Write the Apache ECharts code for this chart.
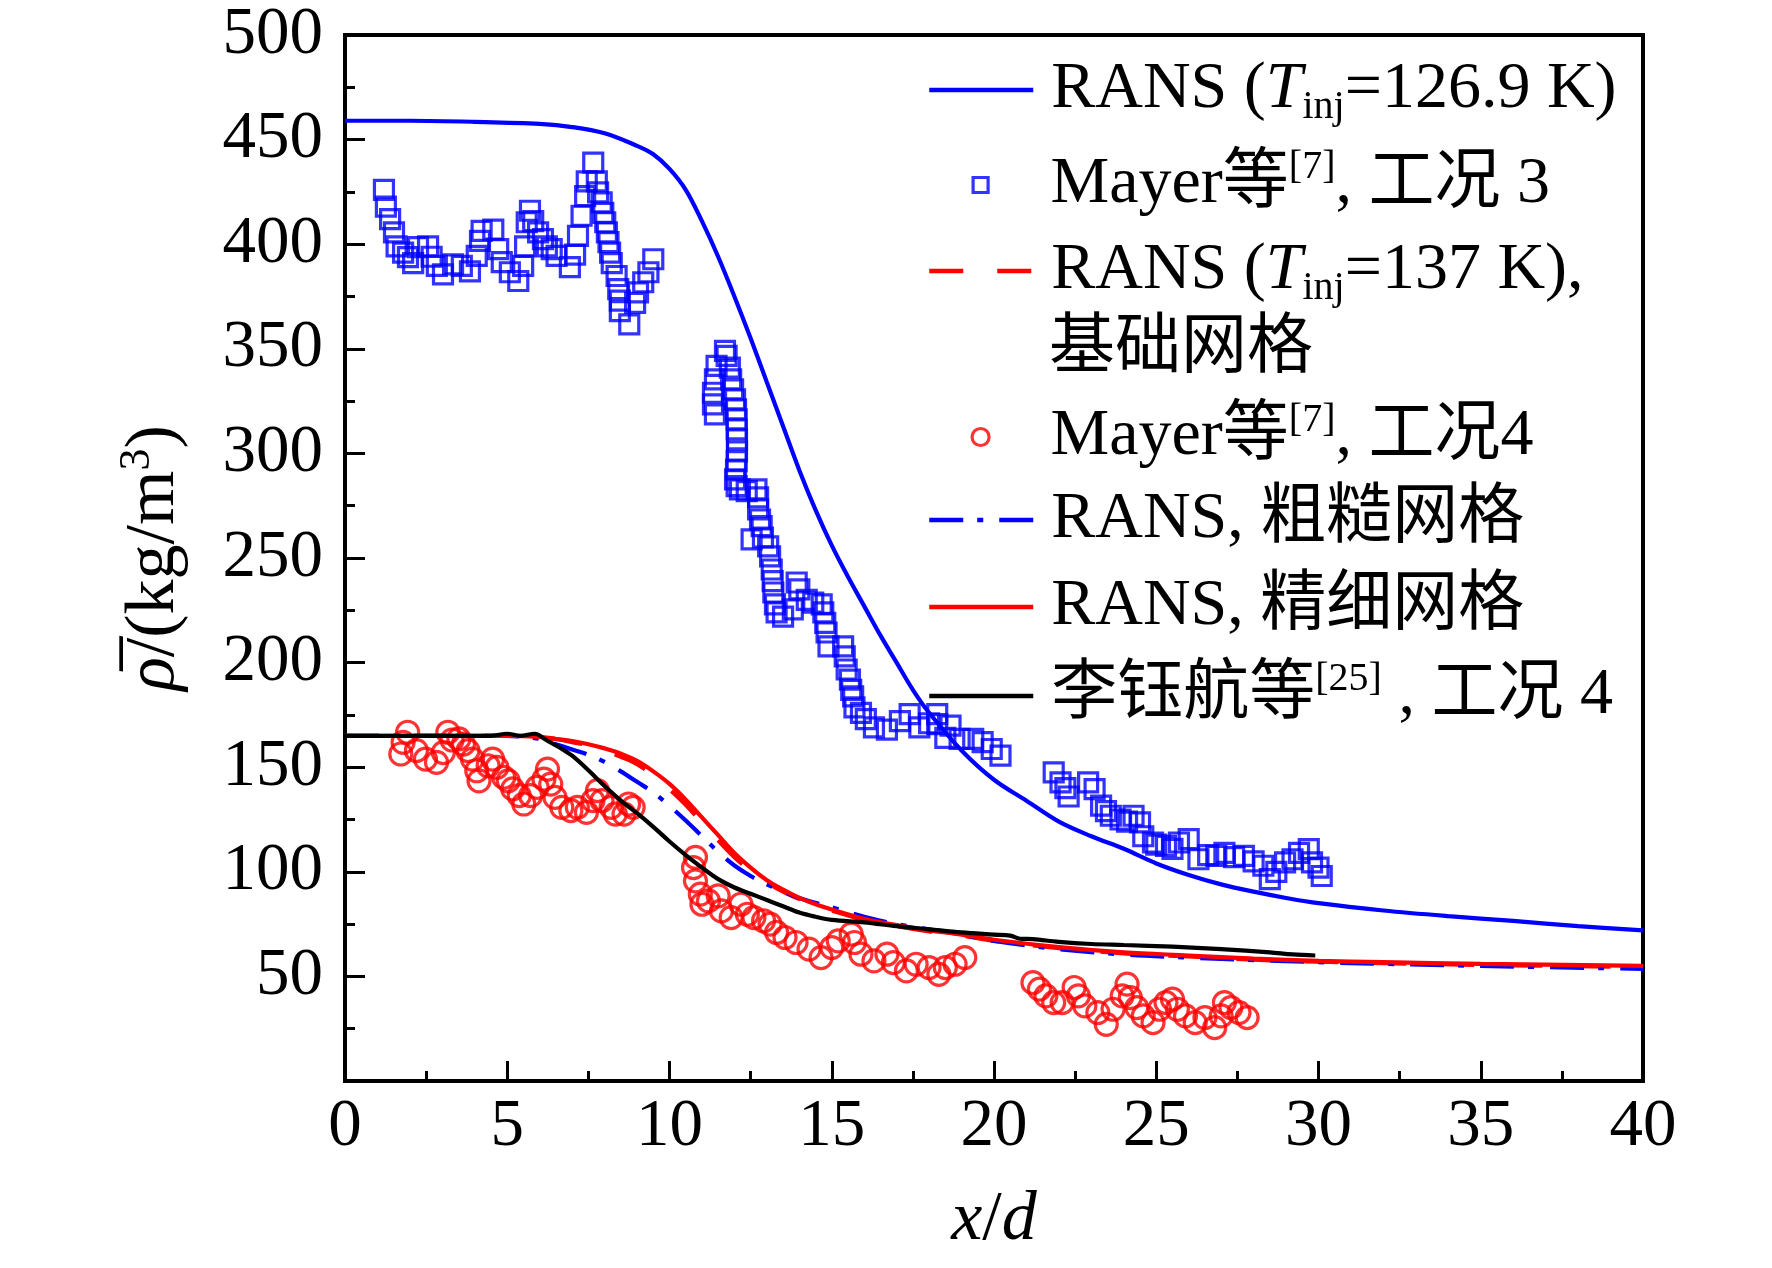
<!DOCTYPE html>
<html>
<head>
<meta charset="utf-8">
<script src="https://cdn.jsdelivr.net/npm/echarts@6/dist/echarts.min.js"></script>
<style>
  html, body { margin: 0; padding: 0; background: #fff; }
  #chart { width: 1772px; height: 1268px; }
</style>
</head>
<body>
<div id="chart"></div>
<script>
// x/d vs mean density
const xTicks = [0, 5, 10, 15, 20, 25, 30, 35, 40];
const yTicks = [50, 100, 150, 200, 250, 300, 350, 400, 450, 500];

// RANS, T_inj = 126.9 K
const ransHotCurve = [[0,459],[2,459],[4,458.5],[6,457.5],[7,456],[8,453],[9,447],[9.5,443],[10,436],[10.5,426],
  [11,411],[11.5,394],[12,375],[12.5,355],[13,334],[13.5,313],[14,292],[14.5,273],[15,256],[15.5,241],[16,227],
  [16.5,213],[17,200],[17.5,187],[18,176],[19,158],[20,144],[21,134],[22,124],[23,117],[24,111],[25,104],
  [26,98.5],[27,94],[28,90.5],[29,87.5],[30,85],[32,81.5],[34,78.8],[36,76.5],[38,74],[40,72]];

// Mayer case 3
const mayer3Points = [[1.2,426],[1.26,418],[1.39,412],[1.51,405.7],[1.59,399],[1.79,396],[1.94,393.8],[2.1,391],
  [2.25,398.6],[2.56,399],[2.67,394],[2.83,389.6],[3.02,385.6],[3.33,390.4],[3.6,389.6],[3.85,387],[4.06,394.4],
  [4.16,401.6],[4.21,406.4],[4.57,407],[4.72,397.6],[4.83,391.4],[5.08,386.6],[5.34,382.4],[5.49,389.6],[5.55,399],
  [5.6,410.5],[5.7,416],[5.8,411],[5.95,405.7],[6.1,402.4],[6.22,399],[6.37,397.6],[6.52,394.4],[6.93,389],[7.09,395],
  [7.18,404],[7.29,413.6],[7.4,423],[7.45,430],[7.65,439],[7.76,430],[7.8,424.8],[7.91,420],[7.96,415],[8.02,410.5],
  [8.07,405.7],[8.12,401],[8.17,396],[8.22,391],[8.37,384.8],[8.42,378.5],[8.47,373],[8.47,368],[8.76,361.7],[8.94,372],
  [9.03,377],[9.19,381.8],[9.35,386.6],[9.5,392.8],
  [11.45,341.8],[11.4,335.4],[11.34,329],[11.34,323.4],[11.4,318.7],[11.71,349],[11.76,346.6],[11.86,341],[11.9,335.4],
  [11.96,330.6],[12.02,325.8],[12.05,321],[12.07,316.3],[12.07,311.5],[12.08,306.7],[12.08,301],[12.07,296.3],
  [12.05,292.3],[12.02,287.6],[12.07,284.4],[12.17,282.8],[12.38,282],[12.68,282.8],[12.73,279],[12.73,273.2],
  [12.79,268.4],[12.84,265.2],[12.53,258.9],[12.88,259.8],[13.04,255.6],[13.1,250.8],[13.15,244.5],[13.18,238.9],
  [13.2,233.5],[13.25,227.8],[13.3,224],[13.5,222],[13.8,225.4],[13.92,238.3],[14.0,235],[14.23,230],[14.43,228.7],
  [14.69,227.8],[14.74,224],[14.8,219],[14.84,214.4],[14.9,207.8],[15.35,207.8],[15.4,203],[15.46,196.7],[15.56,191.9],
  [15.6,187],[15.66,183.9],[15.7,178.6],[15.9,176],[16.05,173],[16.3,169],[16.7,168],[17.1,172],[17.4,175.4],[17.7,169],
  [18.0,171],[18.25,175.4],[18.25,170.6],[18.5,164],[18.66,169.9],[18.94,163.5],[19.36,163.5],[19.65,162],[19.93,158.7],
  [20.2,155.5],
  [21.84,147.5],[22.05,142.7],[22.2,140],[22.3,136],[22.9,142.7],[23.1,139.5],[23.3,131.6],[23.45,129],[23.6,126.8],
  [23.9,125],[24.1,124],[24.3,126.8],[24.5,123.6],[24.6,117],[24.9,114],[25.0,113],[25.3,112.4],[25.5,111],[25.7,114],
  [26.0,115.6],[26.3,106],[26.6,108],[26.85,107.6],[27.1,109],[27.4,107],[27.7,107.6],[28.0,105],[28.3,102.9],[28.5,96.5],
  [28.7,100],[28.97,104.5],[29.2,106],[29.4,109],[29.7,110.8],[29.8,104.5],[30.0,102],[30.1,98]];

// RANS, T_inj = 137 K, base grid
const ransBaseCurve = [[0,165],[5,165],[6,164.5],[6.5,163.5],[7,162],[7.5,160.5],[8,158],[8.5,155],[9,151.5],
  [9.5,146],[10,139.5],[10.5,132],[11,123.5],[11.5,115],[12,107],[12.5,100.5],[13,95],[13.5,90.5],[14,87],[14.5,84],
  [15,81.5],[16,77],[17,74],[18,71.5],[19,69.5],[20,67],[22,63.5],[24,61],[26,59.5],[28,58],[30,57],[32,56.3],
  [35,55.5],[40,54.5]];

// Mayer case 4
const mayer4Points = [[1.93,166.7],[1.79,161.9],[1.72,156.3],[2.2,157.9],[2.48,153.9],[2.82,152.3],[3.03,157],
  [3.17,166.7],[3.3,163],[3.51,163.5],[3.65,161],[3.79,157.9],[3.93,153.9],[4.06,148.3],[4.13,143.5],[4.41,150.7],
  [4.55,153.9],[4.68,149.9],[4.89,145.1],[5.03,143.5],[5.17,139.6],[5.37,136.4],[5.51,132.4],[5.72,136.4],[5.92,140.4],
  [6.13,144.3],[6.24,149.1],[6.34,141.9],[6.47,135.6],[6.68,130.8],[6.96,129.2],[7.16,130.8],[7.44,128.4],[7.64,134],
  [7.78,138.8],[7.92,134],[8.2,130.8],[8.33,127.6],[8.6,127.6],[8.74,132.4],[8.88,130.8],
  [10.8,106.9],[10.74,102],[10.8,95.7],[10.95,89.3],[11.0,84.5],[11.2,86.1],[11.5,88.5],[11.6,81.3],[11.9,78.1],
  [12.2,84.5],[12.4,79.7],[12.6,78.1],[12.9,76.6],[13.1,75],[13.3,71],[13.56,68.6],[13.9,66.2],[14.3,63],[14.67,59],
  [15.0,63.8],[15.2,67],[15.6,70.2],[15.7,66.2],[15.9,60.6],[16.3,57.4],[16.7,60.6],[16.9,56.6],[17.3,52.6],[17.6,55.8],
  [18.0,54.2],[18.3,51],[18.5,54.2],[18.8,55.8],[19.1,59],
  [21.2,47],[21.4,43.9],[21.6,40.7],[21.84,37.5],[22.1,37.5],[22.47,44.7],[22.6,40.7],[22.8,35.9],[23.2,32.7],
  [23.46,27.1],[23.67,34.3],[23.95,40.7],[24.1,46.3],[24.2,39.9],[24.4,35.1],[24.6,31.1],[24.9,27.9],[25.1,34.3],
  [25.3,37.5],[25.5,39.1],[25.65,34.3],[25.9,31.1],[26.2,27.9],[26.5,30.3],[26.8,25.5],[27.0,31.1],[27.1,37.5],
  [27.3,35.1],[27.55,32.7],[27.8,30.3]];

// RANS, coarse grid
const ransCoarseCurve = [[0,165],[5,165],[5.5,164.5],[6,163.5],[6.5,161],[7,158.5],[7.5,156],[8,152.5],[8.5,148],
  [9,143],[9.5,138],[10,131.5],[10.5,124.5],[11,117],[11.5,109.5],[12,103],[12.5,98],[13,94],[13.5,90.5],[14,87.5],
  [15,83],[16,78.5],[17,75],[18,72.5],[19,70],[20,67],[22,63],[24,60.5],[26,59],[28,57.8],[30,56.8],[32,56],
  [35,55],[40,53.6]];

// RANS, fine grid
const ransFineCurve = [[0,165],[5,165],[6,164.5],[6.5,163.5],[7,162.5],[7.5,161],[8,159],[8.5,156.5],[9,153],
  [9.5,148],[10,142],[10.5,134.5],[11,126],[11.5,117.5],[12,109],[12.5,102],[13,96],[13.5,91.5],[14,87.5],[14.5,84.5],
  [15,82],[16,77.5],[17,74.5],[18,72],[19,70],[20,67.5],[22,64],[24,61.5],[26,60],[28,58.5],[30,57.4],[32,56.8],
  [35,56],[40,55]];

// Li et al., case 4
const liCurve = [[0,165],[4.5,165],[5,166],[5.4,165],[5.85,166],[6.2,163],[6.6,159.5],[7,155.5],[7.5,148.5],[8,141],
  [8.5,134],[9,128],[9.5,121.5],[10,114.5],[10.5,108],[11,102],[11.5,96.5],[12,92.5],[12.5,89.5],[13,86.5],[13.5,83.5],
  [14,80.5],[14.5,78.5],[15,77],[16,75.8],[17,74],[18,72.5],[19,71],[20,70],[20.5,69.5],[20.8,68],[21.2,67.8],
  [22,66.5],[23,65.5],[24,65],[25.5,64.2],[27,63],[28.5,61.5],[29.2,60.5],[29.9,60]];

const SERIF = '"Liberation Serif", "Times New Roman", "Noto Sans CJK SC", serif';
const BLUE = '#0000ff', RED = '#ff0000';

const legendLabels = {
  ransHot: '{b|RANS (}{i|T}{s|inj}{b|=126.9 K)}',
  mayer3: '{b|Mayer等}{p|[7]}{b|, 工况 3}',
  ransBase: '{b|RANS (}{i|T}{s|inj}{b|=137 K),}',
  mayer4: '{b|Mayer等}{p|[7]}{b|, 工况4}',
  ransCoarse: '{b|RANS, 粗糙网格}',
  ransFine: '{b|RANS, 精细网格}',
  li: '{b|李钰航等}{p|[25]}{b| , 工况 4}'
};
// name, top, icon width, icon height, is line
const legendRows = [
  ['ransHot', 57, 104, 14, true], ['mayer3', 148, 15, 15, false], ['ransBase', 238, 104, 14, true],
  ['mayer4', 400, 17, 17, false], ['ransCoarse', 487, 104, 14, true], ['ransFine', 574, 104, 14, true],
  ['li', 659, 104, 14, true]
];

const richText = {
  b: { fontSize: 66, lineHeight: 74, fontFamily: SERIF, color: '#000' },
  i: { fontSize: 66, lineHeight: 74, fontFamily: SERIF, fontStyle: 'italic', color: '#000' },
  s: { fontSize: 40, lineHeight: 40, fontFamily: SERIF, verticalAlign: 'bottom', color: '#000' },
  p: { fontSize: 40, lineHeight: 48, fontFamily: SERIF, verticalAlign: 'top', color: '#000' }
};
const nameRich = {
  b: { fontSize: 70, lineHeight: 80, fontFamily: SERIF, color: '#000' },
  i: { fontSize: 70, lineHeight: 80, fontFamily: SERIF, fontStyle: 'italic', color: '#000' },
  p: { fontSize: 44, lineHeight: 54, fontFamily: SERIF, verticalAlign: 'top', color: '#000' }
};

function lineSeries(name, data, color, type) {
  return {
    name: name, type: 'line', data: data, symbol: 'none', smooth: 0.35,
    lineStyle: { color: color, width: 4.2, type: type || 'solid' },
    itemStyle: { color: color }
  };
}

var myChart = echarts.init(document.getElementById('chart'));
myChart.setOption({
  animation: false,
  backgroundColor: '#fff',
  grid: { left: 345, top: 35, right: 129, bottom: 187, show: true, borderColor: '#000', borderWidth: 4 },
  xAxis: {
    type: 'value', min: xTicks[0], max: xTicks[xTicks.length - 1], interval: 5,
    name: '{i|x}{b|/}{i|d}', nameLocation: 'middle', nameGap: 100,
    nameTextStyle: { rich: nameRich },
    axisLine: { lineStyle: { color: '#000', width: 4 } },
    axisTick: { inside: true, length: 20, lineStyle: { color: '#000', width: 3 } },
    minorTick: { show: true, splitNumber: 2, length: 10, lineStyle: { color: '#000', width: 3 } },
    axisLabel: { fontSize: 67, fontFamily: SERIF, color: '#000', margin: 13 },
    splitLine: { show: false }
  },
  yAxis: {
    type: 'value', min: 0, max: yTicks[yTicks.length - 1], interval: 50,
    name: '{i|ρ\u0305}{b|/(kg/m}{p|3}{b|)}', nameLocation: 'middle', nameGap: 150, nameRotate: 90,
    nameTextStyle: { rich: nameRich },
    axisLine: { lineStyle: { color: '#000', width: 4 } },
    axisTick: { inside: true, length: 20, lineStyle: { color: '#000', width: 3 } },
    minorTick: { show: true, splitNumber: 2, length: 10, lineStyle: { color: '#000', width: 3 } },
    axisLabel: {
      fontSize: 67, fontFamily: SERIF, color: '#000', margin: 22,
      formatter: function (v) { return yTicks.indexOf(v) >= 0 ? String(v) : ''; }
    },
    splitLine: { show: false }
  },
  legend: legendRows.map(function (r) {
    var iconLeft = 979 - r[2] / 2;
    var leg = {
      data: [r[0]], left: iconLeft, top: r[1], orient: 'vertical', padding: 0, itemGap: 0,
      itemWidth: r[2], itemHeight: r[3], selectedMode: false,
      formatter: function (n) { return legendLabels[n]; },
      textStyle: { rich: richText, padding: [0, 0, 0, 1049 - iconLeft - r[2] - 5] }
    };
    if (r[4]) {
      leg.itemStyle = { opacity: 0 };
      leg.lineStyle = { width: 4.5 };
    } else {
      leg.itemStyle = { borderWidth: 3.2 };
    }
    return leg;
  }),
  graphic: [{
    type: 'text', left: 1049, top: 317,
    style: { text: '基础网格', fontSize: 66, fontFamily: SERIF, fill: '#000' }
  }],
  series: [
    lineSeries('ransHot', ransHotCurve, BLUE),
    {
      name: 'mayer3', type: 'scatter', data: mayer3Points, symbol: 'rect', symbolSize: 19,
      itemStyle: { color: 'rgba(0,0,0,0)', borderColor: BLUE, borderWidth: 3.2 }
    },
    lineSeries('ransBase', ransBaseCurve, RED, [34, 34]),
    {
      name: 'mayer4', type: 'scatter', data: mayer4Points, symbol: 'circle', symbolSize: 22,
      itemStyle: { color: 'rgba(0,0,0,0)', borderColor: RED, borderWidth: 3.2 }
    },
    lineSeries('ransCoarse', ransCoarseCurve, BLUE, [34, 14, 6, 16]),
    lineSeries('ransFine', ransFineCurve, RED),
    lineSeries('li', liCurve, '#000')
  ]
});
</script>
</body>
</html>
